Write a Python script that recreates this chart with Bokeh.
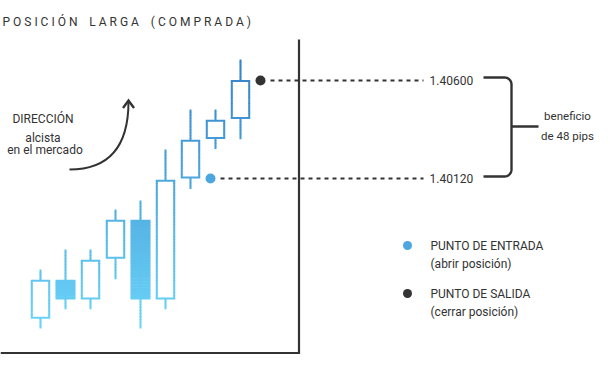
import math
import numpy as np
from bokeh.plotting import figure
from bokeh.models import Range1d
from bokeh.core.properties import value
from bokeh.embed import file_html
from bokeh.resources import INLINE

# ---------------- data ----------------
candle_idx = [0, 1, 2, 3, 4, 5, 6, 7, 8]
opens  = [1.39433, 1.39624, 1.39527, 1.39727, 1.39918, 1.39527, 1.40120, 1.40314, 1.40412]
highs  = [1.39674, 1.39772, 1.39772, 1.39968, 1.40012, 1.40262, 1.40458, 1.40458, 1.40703]
lows   = [1.39385, 1.39480, 1.39480, 1.39627, 1.39385, 1.39480, 1.40068, 1.40264, 1.40312]
closes = [1.39624, 1.39527, 1.39722, 1.39918, 1.39527, 1.40114, 1.40310, 1.40408, 1.40603]

entry_price = 1.40120
exit_price = 1.40600
entry_idx = 6.8
exit_idx = 8.8
profit_pips = round((exit_price - entry_price) * 10000)

NB = "\u00a0"
title_text = "P O S I C I Ó N" + NB * 4 + "L A R G A" + NB * 4 + "( C O M P R A D A )"
direction_lines = ["DIRECCIÓN", "alcista", "en el mercado"]
legend_titles = ["PUNTO DE ENTRADA", "PUNTO DE SALIDA"]
legend_subs = ["(abrir posición)", "(cerrar posición)"]
profit_lines = ["beneficio", f"de {profit_pips} pips"]

# ---------------- layout helpers (pixel -> data) ----------------
PXU = 25.0                 # pixels per candle slot
S = 0.0048 / 98.0          # price per pixel


def X(px):
    return (px - 40.0) / PXU


def Y(py):
    return entry_price + (178.0 - py) * S


DARK = "#333333"
FONT = value("Roboto")
BOT_RGB = np.array([108, 214, 250])
TOP_RGB = np.array([52, 128, 198])
P_LO, P_HI = Y(330), Y(55)


def grad(price):
    t = min(max((price - P_LO) / (P_HI - P_LO), 0.0), 1.0)
    c = BOT_RGB + (TOP_RGB - BOT_RGB) * t
    return "#%02x%02x%02x" % tuple(int(round(v)) for v in c)


p = figure(width=594, height=354, x_range=Range1d(X(0), X(594)),
           y_range=Range1d(Y(354), Y(0)), x_axis_type=None, y_axis_type=None,
           output_backend="svg", toolbar_location=None, min_border=0)
p.grid.visible = False
p.outline_line_color = None
p.background_fill_color = "white"

# ---------------- candles with vertical gradient ----------------
seg = dict(x0=[], y0=[], x1=[], y1=[], c=[])
fills = dict(l=[], r=[], t=[], b=[], c=[])
whites = dict(l=[], r=[], t=[], b=[])
step = 3 * S
ov = 0.6 * S
hw_hollow = 8.7 / PXU
hw_fill = 10.0 / PXU
lw_x = 1.0 / PXU

for i, o, h, l, c in zip(candle_idx, opens, highs, lows, closes):
    n = max(1, int(math.ceil((h - l) / step)))
    ys = np.linspace(l, h, n + 1)
    for k in range(n):
        seg["x0"].append(i); seg["x1"].append(i)
        seg["y0"].append(ys[k]); seg["y1"].append(min(ys[k + 1] + ov, h))
        seg["c"].append(grad((ys[k] + ys[k + 1]) / 2))
    bt, bb = max(o, c), min(o, c)
    if c < o:  # bearish: filled body
        n = max(1, int(math.ceil((bt - bb) / step)))
        ys = np.linspace(bb, bt, n + 1)
        for k in range(n):
            fills["l"].append(i - hw_fill); fills["r"].append(i + hw_fill)
            fills["b"].append(ys[k]); fills["t"].append(min(ys[k + 1] + ov, bt))
            fills["c"].append(grad((ys[k] + ys[k + 1]) / 2))
    else:      # bullish: hollow body
        whites["l"].append(i - hw_hollow); whites["r"].append(i + hw_hollow)
        whites["t"].append(bt - S); whites["b"].append(bb + S)

oseg = dict(x0=[], y0=[], x1=[], y1=[], c=[])
for i, o, c in zip(candle_idx, opens, closes):
    if c < o:
        continue
    top_c, bot_c = max(o, c) - S, min(o, c) + S
    n = max(1, int(math.ceil((top_c - bot_c) / step)))
    ys = np.linspace(bot_c, top_c, n + 1)
    for sx in (i - hw_hollow, i + hw_hollow):
        for k in range(n):
            oseg["x0"].append(sx); oseg["x1"].append(sx)
            oseg["y0"].append(ys[k]); oseg["y1"].append(min(ys[k + 1] + ov, top_c))
            oseg["c"].append(grad((ys[k] + ys[k + 1]) / 2))
    for yy in (top_c, bot_c):
        oseg["x0"].append(i - hw_hollow - lw_x); oseg["x1"].append(i + hw_hollow + lw_x)
        oseg["y0"].append(yy); oseg["y1"].append(yy)
        oseg["c"].append(grad(yy))

p.segment(x0="x0", y0="y0", x1="x1", y1="y1", line_color="c", line_width=2, source=seg)
p.quad(left="l", right="r", top="t", bottom="b", fill_color="c", line_color=None, source=fills)
p.quad(left="l", right="r", top="t", bottom="b", fill_color="white", line_color=None, source=whites)
p.segment(x0="x0", y0="y0", x1="x1", y1="y1", line_color="c", line_width=2, source=oseg)

# ---------------- frame lines ----------------
p.line([X(298.5), X(298.5), X(0)], [Y(39), Y(352.5), Y(352.5)], line_color=DARK, line_width=2.2,
       line_join="miter")

# ---------------- entry / exit ----------------
p.segment(x0=[entry_idx + 0.4, exit_idx + 0.4], y0=[entry_price, exit_price],
          x1=[X(423), X(423)], y1=[entry_price, exit_price],
          line_color=DARK, line_width=2, line_dash="4 4")
p.scatter([entry_idx], [entry_price], size=10, fill_color="#4ca6e0", line_color=None)
p.scatter([exit_idx], [exit_price], size=10, fill_color=DARK, line_color=None)

p.text(x=[X(429), X(429)], y=[exit_price, entry_price],
       text=[f"{exit_price:.5f}", f"{entry_price:.5f}"],
       text_font=FONT, text_font_size="12px", text_color=DARK,
       text_align="left", text_baseline="middle")

# ---------------- bracket ----------------
r = 7.0
bx0, bx1, btop, bbot = 483.0, 511.0, 77.0, 176.0
pts = [(bx0, btop), (bx1 - r, btop)]
for a in np.linspace(90, 0, 10):
    pts.append((bx1 - r + r * math.cos(math.radians(a)), btop + r - r * math.sin(math.radians(a))))
pts.append((bx1, bbot - r))
for a in np.linspace(0, -90, 10):
    pts.append((bx1 - r + r * math.cos(math.radians(a)), bbot - r - r * math.sin(math.radians(a))))
pts.append((bx0, bbot))
p.line([X(a) for a, b in pts], [Y(b) for a, b in pts], line_color=DARK, line_width=2.4)
p.line([X(bx1), X(538)], [Y(126), Y(126)], line_color=DARK, line_width=2.4)

p.text(x=[X(567), X(567)], y=[Y(115), Y(135)], text=profit_lines,
       text_font=FONT, text_font_size="11.5px", text_color=DARK,
       text_align="center", text_baseline="middle")

# ---------------- direction note & arrow ----------------
p.text(x=[X(42.5), X(42.5), X(44.5)], y=[Y(118.5), Y(137), Y(149.5)], text=direction_lines,
       text_font=FONT, text_font_size="12px", text_color=DARK,
       text_align="center", text_baseline="alphabetic")
p.quadratic(x0=[X(69)], y0=[Y(169)], x1=[X(128)], y1=[Y(101)], cx=[X(128)], cy=[Y(169)],
            line_color=DARK, line_width=2)
p.line([X(122.5), X(128), X(133.5)], [Y(107.5), Y(100), Y(107.5)], line_color=DARK,
       line_width=2.4, line_join="miter")

# ---------------- legend ----------------
p.scatter([X(407), X(407)], [Y(245), Y(293)], size=9,
          fill_color=["#4ca6e0", DARK], line_color=None)
p.text(x=[X(430)] * 4, y=[Y(245), Y(263.5), Y(293), Y(311.5)],
       text=[legend_titles[0], legend_subs[0], legend_titles[1], legend_subs[1]],
       text_font=FONT, text_font_size="12px", text_color=DARK,
       text_align="left", text_baseline="middle")

# ---------------- title ----------------
p.text(x=[X(2)], y=[Y(21)], text=[title_text], text_font=FONT, text_font_size="12px",
       text_color=DARK, text_align="left", text_baseline="alphabetic")

open("out.html", "w").write(file_html(p, INLINE))
